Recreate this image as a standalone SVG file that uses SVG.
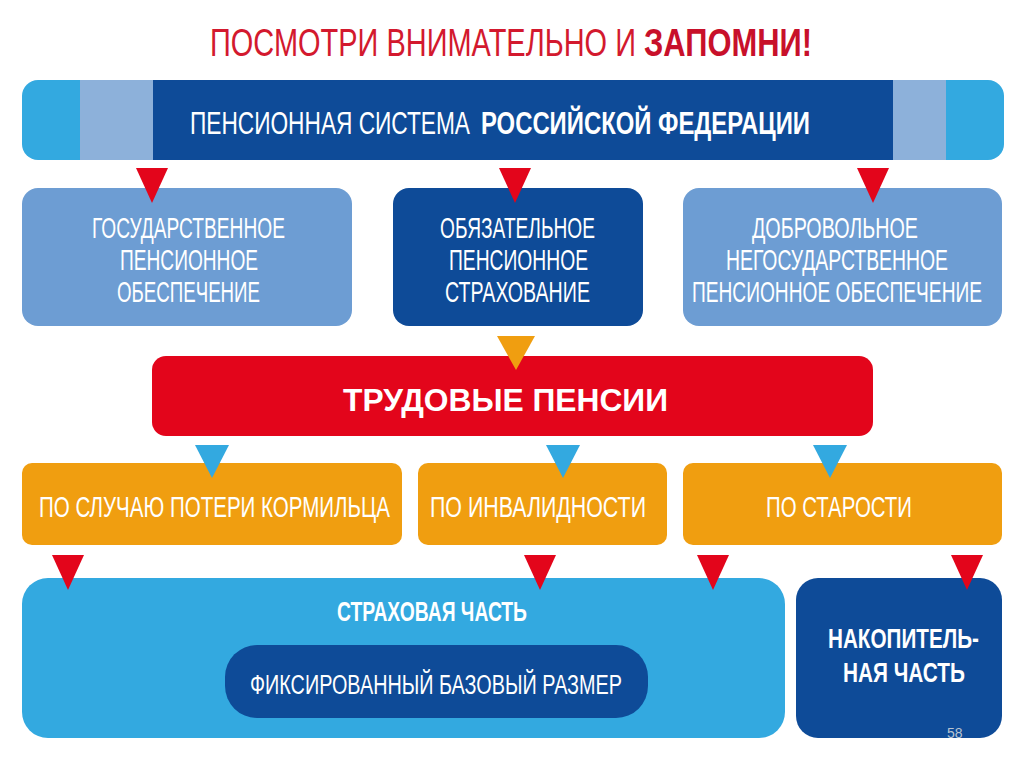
<svg xmlns="http://www.w3.org/2000/svg" width="1024" height="767" viewBox="0 0 1024 767">
<style>
.t{font-family:"Liberation Sans",Arial,sans-serif;fill:#fff}
.b{font-weight:bold}
.lb{fill:#6d9dd3}
.db{fill:#0e4b98}
.or{fill:#f09e10}
.cy{fill:#33a9e0}
.rt{fill:#e3051b}
.ot{fill:#f09e10}
.ct{fill:#33a9e0}
</style>
<rect width="1024" height="767" fill="#fff"/>
<g id="title">
<text class="t" transform="translate(210,56) scale(0.76,1)" font-size="39" style="fill:#d3192e" textLength="560.5" lengthAdjust="spacingAndGlyphs">ПОСМОТРИ ВНИМАТЕЛЬНО И</text>
<text class="t b" transform="translate(644,56) scale(0.76,1)" font-size="39" style="fill:#c8102a" textLength="221" lengthAdjust="spacingAndGlyphs">ЗАПОМНИ!</text>
</g>
<g id="header">
<rect x="22" y="80" width="982" height="80" rx="16" class="cy"/>
<rect x="80" y="80" width="866" height="80" fill="#8db1da"/>
<rect x="153" y="80" width="740" height="80" class="db"/>
<text class="t" transform="translate(190,134) scale(0.76,1)" font-size="32" textLength="368.4" lengthAdjust="spacingAndGlyphs">ПЕНСИОННАЯ СИСТЕМА</text>
<text class="t b" transform="translate(481,134) scale(0.76,1)" font-size="32" textLength="432.9" lengthAdjust="spacingAndGlyphs">РОССИЙСКОЙ ФЕДЕРАЦИИ</text>
</g>
<g id="gos">
<rect x="22" y="188" width="330" height="138" rx="16" class="lb"/>
<text class="t" transform="translate(92,238) scale(0.76,1)" font-size="29" textLength="253.9" lengthAdjust="spacingAndGlyphs">ГОСУДАРСТВЕННОЕ</text>
<text class="t" transform="translate(120,270) scale(0.76,1)" font-size="29" textLength="181.6" lengthAdjust="spacingAndGlyphs">ПЕНСИОННОЕ</text>
<text class="t" transform="translate(117,302) scale(0.76,1)" font-size="29" textLength="188.2" lengthAdjust="spacingAndGlyphs">ОБЕСПЕЧЕНИЕ</text>
</g>
<g id="obyaz">
<rect x="393" y="188" width="250" height="138" rx="16" class="db"/>
<text class="t" transform="translate(440,238) scale(0.76,1)" font-size="29" textLength="203.9" lengthAdjust="spacingAndGlyphs">ОБЯЗАТЕЛЬНОЕ</text>
<text class="t" transform="translate(449,270) scale(0.76,1)" font-size="29" textLength="182.9" lengthAdjust="spacingAndGlyphs">ПЕНСИОННОЕ</text>
<text class="t" transform="translate(445,302) scale(0.76,1)" font-size="29" textLength="190.8" lengthAdjust="spacingAndGlyphs">СТРАХОВАНИЕ</text>
</g>
<g id="dobr">
<rect x="683" y="188" width="319" height="138" rx="16" class="lb"/>
<text class="t" transform="translate(752,238) scale(0.76,1)" font-size="29" textLength="218.4" lengthAdjust="spacingAndGlyphs">ДОБРОВОЛЬНОЕ</text>
<text class="t" transform="translate(726,270) scale(0.76,1)" font-size="29" textLength="292.1" lengthAdjust="spacingAndGlyphs">НЕГОСУДАРСТВЕННОЕ</text>
<text class="t" transform="translate(692,302) scale(0.76,1)" font-size="29" textLength="381.6" lengthAdjust="spacingAndGlyphs">ПЕНСИОННОЕ ОБЕСПЕЧЕНИЕ</text>
</g>
<g id="trud">
<rect x="152" y="356" width="721" height="80" rx="14" class="rt"/>
<text class="t b" transform="translate(343,411) scale(0.76,1)" font-size="32" textLength="427.6" lengthAdjust="spacingAndGlyphs">ТРУДОВЫЕ ПЕНСИИ</text>
</g>
<g id="korm">
<rect x="22" y="463" width="380" height="82" rx="10" class="or"/>
<text class="t" transform="translate(39,517) scale(0.76,1)" font-size="30" textLength="461.8" lengthAdjust="spacingAndGlyphs">ПО СЛУЧАЮ ПОТЕРИ КОРМИЛЬЦА</text>
</g>
<g id="inv">
<rect x="418" y="463" width="249" height="82" rx="10" class="or"/>
<text class="t" transform="translate(430,517) scale(0.76,1)" font-size="30" textLength="284.2" lengthAdjust="spacingAndGlyphs">ПО ИНВАЛИДНОСТИ</text>
</g>
<g id="star">
<rect x="683" y="463" width="319" height="82" rx="10" class="or"/>
<text class="t" transform="translate(766,517) scale(0.76,1)" font-size="30" textLength="192.1" lengthAdjust="spacingAndGlyphs">ПО СТАРОСТИ</text>
</g>
<g id="strah">
<rect x="22" y="578" width="763" height="160" rx="26" class="cy"/>
<text class="t b" transform="translate(337,621) scale(0.76,1)" font-size="28" textLength="250" lengthAdjust="spacingAndGlyphs">СТРАХОВАЯ ЧАСТЬ</text>
</g>
<g id="fix">
<rect x="225" y="645" width="423" height="73" rx="32" class="db"/>
<text class="t" transform="translate(250,694) scale(0.76,1)" font-size="28" textLength="489.5" lengthAdjust="spacingAndGlyphs">ФИКСИРОВАННЫЙ БАЗОВЫЙ РАЗМЕР</text>
</g>
<g id="nakop">
<rect x="796" y="578" width="206" height="160" rx="22" class="db"/>
<text class="t b" transform="translate(828,648) scale(0.76,1)" font-size="28" textLength="198.7" lengthAdjust="spacingAndGlyphs">НАКОПИТЕЛЬ-</text>
<text class="t b" transform="translate(843,682) scale(0.76,1)" font-size="28" textLength="160.5" lengthAdjust="spacingAndGlyphs">НАЯ ЧАСТЬ</text>
</g>
<g id="connectors">
<polygon points="136,168 168,168 152,203" class="rt"/>
<polygon points="499,168 531,168 515,203" class="rt"/>
<polygon points="857,168 889,168 873,203" class="rt"/>
<polygon points="497,336 535,336 516,370" class="ot"/>
<polygon points="195,445 229,445 212,478" class="ct"/>
<polygon points="546,445 580,445 563,478" class="ct"/>
<polygon points="813,445 847,445 830,478" class="ct"/>
<polygon points="52,555 84,555 68,590" class="rt"/>
<polygon points="524,555 556,555 540,590" class="rt"/>
<polygon points="697,555 729,555 713,590" class="rt"/>
<polygon points="951,555 983,555 967,590" class="rt"/>
</g>
<text x="947" y="738" font-family="Liberation Sans,Arial,sans-serif" font-size="14" fill="#b8c4d0">58</text>
</svg>
